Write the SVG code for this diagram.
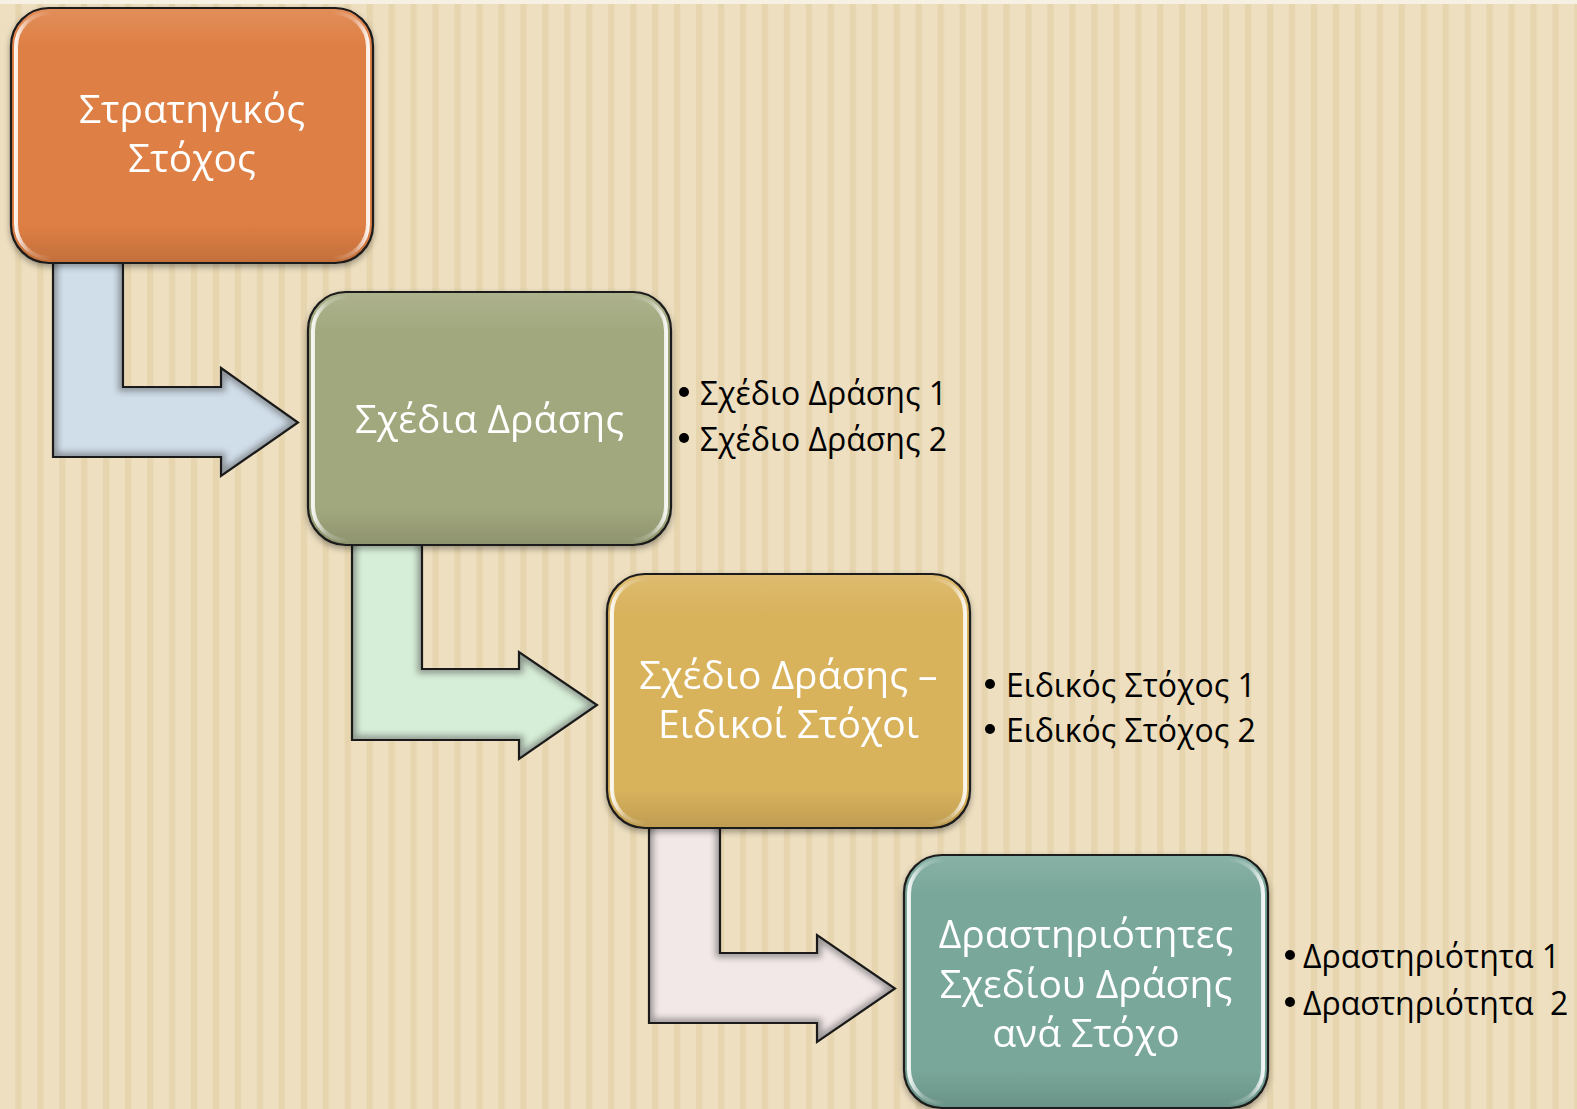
<svg xmlns="http://www.w3.org/2000/svg" width="1577" height="1109" viewBox="0 0 1577 1109">
<defs>
<pattern id="stripes" x="15.2" y="0" width="21.96" height="40" patternUnits="userSpaceOnUse">
<rect x="0" y="0" width="21.96" height="40" fill="#EEDFC0"/>
<rect x="0" y="0" width="6.3" height="40" fill="#E6D5AF"/>
</pattern>
<filter id="soft" x="-10%" y="-10%" width="120%" height="120%">
<feGaussianBlur stdDeviation="3"/>
</filter>
<filter id="boxfx" x="-5%" y="-5%" width="110%" height="112%">
<feGaussianBlur in="SourceAlpha" stdDeviation="3" result="sb"/>
<feOffset in="sb" dx="0" dy="3" result="so"/>
<feFlood flood-color="#000" flood-opacity="0.35"/>
<feComposite in2="so" operator="in" result="shadow"/>
<feMerge><feMergeNode in="shadow"/><feMergeNode in="SourceGraphic"/></feMerge>
</filter>
<linearGradient id="gloss" x1="0" y1="0" x2="1" y2="0">
<stop offset="0" stop-color="#fff" stop-opacity="0.9"/>
<stop offset="0.04" stop-color="#fff" stop-opacity="0.25"/>
<stop offset="0.1" stop-color="#fff" stop-opacity="0"/>
<stop offset="0.9" stop-color="#fff" stop-opacity="0"/>
<stop offset="0.96" stop-color="#fff" stop-opacity="0.25"/>
<stop offset="1" stop-color="#fff" stop-opacity="0.9"/>
</linearGradient>
<linearGradient id="shadeV" x1="0" y1="0" x2="0" y2="1">
<stop offset="0" stop-color="#fff" stop-opacity="0.12"/>
<stop offset="0.15" stop-color="#fff" stop-opacity="0"/>
<stop offset="0.85" stop-color="#000" stop-opacity="0"/>
<stop offset="1" stop-color="#000" stop-opacity="0.12"/>
</linearGradient>
<path id="a1" d="M53,250 H123 V387 H221 V368 L298,422.5 L221,476 V457 H53 Z"/>
<path id="a2" d="M352,532 H422 V669 H519 V652 L597,705 L519,759 V740 H352 Z"/>
<path id="a3" d="M649,815 H720 V953 H817 V935 L895,988.5 L817,1042 V1023 H649 Z"/>
<clipPath id="c1"><use href="#a1"/></clipPath>
<clipPath id="c2"><use href="#a2"/></clipPath>
<clipPath id="c3"><use href="#a3"/></clipPath>
</defs>
<style>
.box { stroke: #1a1a1a; stroke-width: 2.2; }
.hl { fill: none; stroke: url(#gloss); stroke-width: 4; }
.sh { fill: url(#shadeV); }
.edge { fill: none; stroke: #555555; stroke-width: 9; opacity: 0.55; filter: url(#soft); }
.outline { fill: none; stroke: #1a1a1a; stroke-width: 2.2; stroke-linejoin: miter; }
.lbl { font-family: "Open Sans", "Noto Sans", sans-serif; font-size: 39px; fill: #ffffff; text-anchor: middle; }
.bul { font-family: "Open Sans", "Noto Sans", sans-serif; font-size: 32px; fill: #000000; }
</style>
<rect x="0" y="0" width="1577" height="1109" fill="url(#stripes)"/>
<rect x="0" y="0" width="1577" height="4" fill="#F7F1E4"/>

<g id="connectors">
<g id="arrow-1">
<use href="#a1" fill="#D0DEEA"/>
<g clip-path="url(#c1)"><use href="#a1" class="edge"/></g>
<use href="#a1" class="outline"/>
</g>
<g id="arrow-2">
<use href="#a2" fill="#D6EED7"/>
<g clip-path="url(#c2)"><use href="#a2" class="edge"/></g>
<use href="#a2" class="outline"/>
</g>
<g id="arrow-3">
<use href="#a3" fill="#F3E8E8"/>
<g clip-path="url(#c3)"><use href="#a3" class="edge"/></g>
<use href="#a3" class="outline"/>
</g>
</g>

<g id="node-strategic" filter="url(#boxfx)">
<rect class="box" x="11" y="8" width="362" height="255" rx="38" fill="#DE7F44"/>
<rect class="sh" x="12" y="9" width="360" height="253" rx="37"/>
<rect class="hl" x="16" y="13" width="352" height="245" rx="34"/>
<text class="lbl" x="192" y="123">Στρατηγικός</text>
<text class="lbl" x="192" y="172">Στόχος</text>
</g>

<g id="node-action-plans" filter="url(#boxfx)">
<rect class="box" x="308" y="292" width="363" height="253" rx="38" fill="#A2A87E"/>
<rect class="sh" x="309" y="293" width="361" height="251" rx="37"/>
<rect class="hl" x="313" y="297" width="353" height="243" rx="34"/>
<text class="lbl" x="489.5" y="433">Σχέδια Δράσης</text>
</g>

<g id="node-specific-goals" filter="url(#boxfx)">
<rect class="box" x="607" y="574" width="363" height="254" rx="38" fill="#D9B25C"/>
<rect class="sh" x="608" y="575" width="361" height="252" rx="37"/>
<rect class="hl" x="612" y="579" width="353" height="244" rx="34"/>
<text class="lbl" x="788.5" y="689">Σχέδιο Δράσης –</text>
<text class="lbl" x="788.5" y="738">Ειδικοί Στόχοι</text>
</g>

<g id="node-activities" filter="url(#boxfx)">
<rect class="box" x="904" y="855" width="364" height="253" rx="38" fill="#79A79A"/>
<rect class="sh" x="905" y="856" width="362" height="251" rx="37"/>
<rect class="hl" x="909" y="860" width="354" height="243" rx="34"/>
<text class="lbl" x="1086" y="948">Δραστηριότητες</text>
<text class="lbl" x="1086" y="998">Σχεδίου Δράσης</text>
<text class="lbl" x="1086" y="1047">ανά Στόχο</text>
</g>

<g id="list-action-plans">
<circle cx="684" cy="392" r="5" fill="#000"/>
<text class="bul" x="700" y="405">Σχέδιο Δράσης 1</text>
<circle cx="684" cy="438" r="5" fill="#000"/>
<text class="bul" x="700" y="451">Σχέδιο Δράσης 2</text>
</g>

<g id="list-specific-goals">
<circle cx="990" cy="684" r="5" fill="#000"/>
<text class="bul" x="1006" y="697">Ειδικός Στόχος 1</text>
<circle cx="990" cy="729" r="5" fill="#000"/>
<text class="bul" x="1006" y="742">Ειδικός Στόχος 2</text>
</g>

<g id="list-activities">
<circle cx="1290" cy="955" r="5" fill="#000"/>
<text class="bul" x="1303" y="968">Δραστηριότητα 1</text>
<circle cx="1290" cy="1002" r="5" fill="#000"/>
<text class="bul" x="1303" y="1015" xml:space="preserve">Δραστηριότητα  2</text>
</g>
</svg>
